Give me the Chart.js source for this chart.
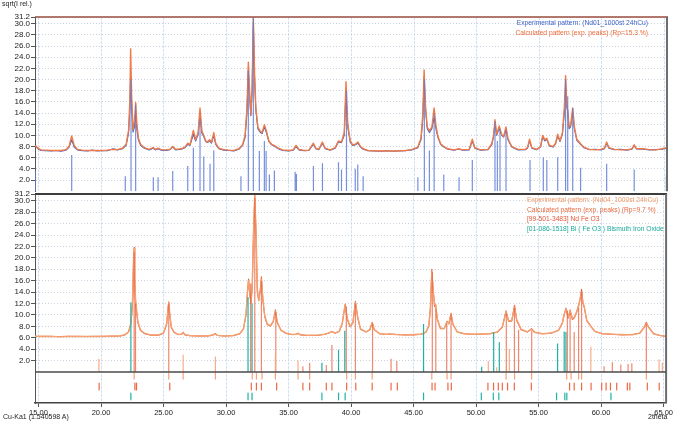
<!DOCTYPE html>
<html><head><meta charset="utf-8">
<script src="https://cdn.jsdelivr.net/npm/chart.js@4.4.0/dist/chart.umd.min.js"></script>
<style>
html,body{margin:0;padding:0;background:#fff}
body{width:674px;height:421px;position:relative;overflow:hidden;font-family:"Liberation Sans",Arial,sans-serif}
canvas{position:absolute;left:0}
.t{position:absolute;white-space:nowrap;font-size:7px;line-height:8px;color:#222}
.lg{font-size:6.7px}
</style></head><body>
<canvas id="c1" width="674" height="197" style="top:0"></canvas>
<canvas id="c2" width="674" height="241" style="top:180px"></canvas>
<div class="t" style="left:2px;top:0px">sqrt(I rel.)</div>
<div class="t lg" style="right:26px;top:19px;color:#3b60c8;text-align:right">Experimental pattern: (Nd01_1000st 24hCu)</div>
<div class="t lg" style="right:26px;top:29px;color:#ee6a3a;text-align:right">Calculated pattern (exp. peaks) (Rp=15.3 %)</div>
<div class="t lg" style="left:527px;top:196px;color:#f39a68">Experimental pattern: (Nd04_1000st 24hCu)</div>
<div class="t lg" style="left:527px;top:205.5px;color:#e8683f">Calculated pattern (exp. peaks) (Rp=9.7 %)</div>
<div class="t lg" style="left:527px;top:215px;color:#e55538">[99-501-3483] Nd Fe O3</div>
<div class="t lg" style="left:527px;top:225px;color:#19a99a">[01-086-1518] Bi ( Fe O3 ) Bismuth Iron Oxide</div>
<div class="t" style="left:3px;top:413px">Cu-Ka1 (1.540598 A)</div>
<div class="t" style="left:648px;top:413px">2theta</div>
<script>
// ---------- DATA ----------
const xTicks = [15, 20, 25, 30, 35, 40, 45, 50, 55, 60, 65];
const yTicks = [2, 4, 6, 8, 10, 12, 14, 16, 18, 20, 22, 24, 26, 28, 30, 31.2];

// Top panel: Nd01 pattern
const topTheta = [14.72,14.80,14.95,15.2,15.6,16.0,16.4,16.8,17.2,17.45,17.65,17.85,18.1,18.5,18.9,19.3,19.7,20.1,20.5,20.95,21.3,21.7,22.0,22.2,22.3,22.36,22.44,22.55,22.66,22.76,22.86,22.98,23.15,23.45,23.85,24.15,24.35,24.55,24.8,25.2,25.5,25.72,25.95,26.4,26.7,26.92,27.1,27.37,27.55,27.75,27.9,28.05,28.2,28.36,28.5,28.66,28.82,29.0,29.15,29.4,29.8,30.2,30.6,31.0,31.3,31.5,31.65,31.76,31.86,31.96,32.06,32.16,32.26,32.36,32.52,32.69,32.86,33.04,33.2,33.4,33.62,33.9,34.15,34.5,35.0,35.35,35.57,35.8,36.2,36.6,36.95,37.15,37.4,37.67,37.9,38.3,38.7,38.95,39.2,39.42,39.56,39.7,39.9,40.1,40.3,40.52,40.72,40.94,41.3,41.8,42.3,42.8,43.3,43.8,44.3,44.8,45.3,45.55,45.7,45.8,45.92,46.05,46.22,46.42,46.6,46.76,46.92,47.12,47.38,47.7,48.2,48.58,48.85,49.4,49.65,49.85,50.3,50.9,51.2,51.35,51.46,51.6,51.8,52.0,52.15,52.34,52.5,52.8,53.3,53.9,54.06,54.22,54.4,54.8,55.1,55.27,55.45,55.6,55.8,56.1,56.3,56.47,56.65,56.85,57.0,57.1,57.2,57.27,57.38,57.5,57.67,57.8,58.0,58.3,58.55,59.0,59.5,59.9,60.2,60.38,60.56,61.0,61.5,62.0,62.4,62.58,62.76,63.3,63.8,64.3,64.8,65.2];
const topCalc = [8.0,8.1,7.7,7.4,7.35,7.3,7.3,7.3,7.45,8.1,9.9,8.2,7.5,7.35,7.3,7.3,7.3,7.3,7.35,7.5,7.45,7.7,8.4,11.0,16.5,25.5,17.0,11.0,12.5,15.9,12.0,9.5,8.4,7.8,7.5,7.8,7.5,7.7,7.45,7.4,7.5,8.0,7.5,7.6,7.9,8.6,8.3,10.9,9.2,10.5,14.9,10.8,10.0,9.0,8.8,9.2,8.8,10.5,8.6,7.7,7.45,7.35,7.3,7.6,8.3,10.0,15.0,23.1,18.0,13.7,18.0,31.0,21.0,15.0,11.5,10.8,10.5,11.9,10.8,9.0,8.4,8.1,7.7,7.4,7.3,7.4,8.2,7.5,7.3,7.35,8.6,7.7,7.5,8.8,7.7,7.4,7.8,9.0,8.8,10.5,19.6,12.0,9.0,8.3,8.4,8.8,8.0,7.6,7.3,7.25,7.2,7.2,7.2,7.25,7.3,7.45,7.9,9.5,14.0,21.7,15.0,11.5,10.8,11.5,14.9,11.5,9.7,8.5,8.0,7.6,7.4,7.6,7.4,7.5,9.3,7.8,7.4,7.5,8.5,10.0,12.8,10.2,11.7,10.1,9.8,11.5,9.4,8.0,7.5,7.5,7.8,9.3,7.8,7.5,8.0,10.0,9.2,9.5,8.2,8.0,8.6,10.2,9.0,10.5,15.0,20.7,15.5,14.3,11.5,11.8,14.9,11.5,9.3,8.5,7.9,7.5,7.4,7.5,7.7,8.8,7.8,7.5,7.4,7.4,7.6,8.3,7.6,7.6,7.45,7.4,7.6,7.8];
const topExp = [7.9,8.0,7.6,7.3,7.25,7.2,7.3,7.15,7.35,7.9,9.2,7.9,7.4,7.25,7.2,7.35,7.2,7.3,7.25,7.6,7.4,7.6,8.2,10.5,15.0,20.5,15.0,10.6,11.5,14.0,11.0,9.2,8.2,7.7,7.4,7.7,7.4,7.6,7.35,7.3,7.45,7.9,7.4,7.5,7.8,8.4,8.2,10.2,9.0,10.2,13.8,10.4,9.8,8.9,8.7,9.0,8.6,10.0,8.4,7.6,7.35,7.3,7.2,7.5,8.2,9.6,14.0,21.6,17.0,13.5,18.0,30.2,20.0,14.5,11.2,10.6,10.3,11.5,10.5,8.9,8.3,8.0,7.6,7.3,7.2,7.35,8.0,7.4,7.25,7.3,8.4,7.6,7.45,8.6,7.6,7.35,7.7,8.8,8.7,10.0,17.8,11.5,8.8,8.2,8.3,8.6,7.9,7.5,7.25,7.2,7.15,7.25,7.15,7.2,7.25,7.4,7.8,9.2,13.0,20.5,14.5,11.2,10.5,11.2,13.2,11.0,9.5,8.4,7.9,7.5,7.35,7.55,7.35,7.4,9.0,7.7,7.35,7.45,8.3,9.8,12.2,10.0,11.3,10.0,9.7,11.0,9.2,7.9,7.4,7.45,7.7,9.0,7.7,7.45,7.9,9.7,9.0,9.3,8.1,7.9,8.5,9.9,8.9,10.2,14.0,19.0,15.0,14.5,11.2,11.5,14.2,11.2,9.1,8.4,7.8,7.45,7.5,7.4,7.6,8.6,7.7,7.45,7.5,7.35,7.5,8.2,7.55,7.5,7.4,7.45,7.5,7.7];
const topStickPos = [14.74,17.65,21.93,22.39,22.76,24.17,24.55,25.72,26.92,27.37,27.9,28.2,28.7,29.0,31.17,31.76,32.16,32.64,33.04,33.18,33.44,33.84,35.5,35.6,36.96,37.68,38.96,39.2,39.6,40.3,40.5,40.93,45.3,45.82,46.22,46.6,47.37,48.59,49.65,51.46,51.65,51.86,52.34,54.26,55.32,55.6,56.47,57.1,57.27,57.67,58.3,60.38,62.58,65.15];
const topStickH = [3.7,6.5,2.7,20.0,15.5,2.5,2.5,3.6,4.5,7.8,12.5,6.2,4.9,7.3,2.7,21.6,31.0,7.2,9.0,7.2,3.0,3.7,3.5,3.1,4.5,5.0,5.2,3.9,18.0,4.0,4.8,2.7,2.5,20.0,7.3,13.8,3.0,2.5,5.6,12.5,9.0,11.2,10.9,5.6,6.1,5.6,6.1,20.0,17.0,14.9,4.2,4.9,3.9,2.8];

// Bottom panel: Nd04 pattern
const botTheta = [14.72,15.3,16.0,16.7,17.4,18.1,18.8,19.5,20.2,20.9,21.5,21.9,22.2,22.4,22.52,22.6,22.65,22.7,22.76,22.85,22.95,23.15,23.5,24.0,24.6,25.0,25.25,25.35,25.42,25.5,25.62,25.85,26.2,26.45,26.57,26.72,27.2,27.9,28.6,28.98,29.12,29.3,29.9,30.6,31.1,31.4,31.6,31.72,31.8,31.9,32.0,32.1,32.2,32.3,32.4,32.5,32.62,32.74,32.83,32.95,33.1,33.3,33.55,33.78,33.95,34.1,34.4,34.8,35.3,35.6,35.76,35.95,36.6,37.3,37.9,38.2,38.47,38.7,39.05,39.3,39.53,39.7,39.92,40.15,40.35,40.52,40.75,41.2,41.5,41.69,41.86,42.3,42.8,43.08,43.6,44.3,45.0,45.6,46.0,46.22,46.35,46.46,46.58,46.68,46.76,46.9,47.15,47.45,47.68,47.82,48.0,48.15,48.5,49.0,49.7,50.4,51.1,51.7,52.1,52.4,52.6,52.85,53.08,53.25,53.6,54.1,54.44,54.7,55.3,56.0,56.6,56.9,57.05,57.19,57.36,57.53,57.7,57.86,58.05,58.2,58.3,58.44,58.55,58.66,58.85,59.18,59.5,60.1,60.9,61.7,62.5,63.1,63.45,63.62,63.8,64.2,64.7,65.2];
const botCalc = [6.2,6.25,6.2,6.2,6.25,6.2,6.2,6.2,6.25,6.25,6.3,6.5,7.0,8.5,12.0,19.0,21.8,16.0,12.5,10.5,8.6,7.3,6.7,6.45,6.45,6.8,8.3,10.8,12.3,10.0,7.8,6.9,6.55,6.6,6.95,6.5,6.35,6.3,6.3,6.5,6.75,6.4,6.3,6.35,6.7,7.6,10.0,14.0,16.3,13.5,12.0,15.0,24.0,31.0,24.0,14.0,12.5,14.5,16.7,12.5,9.6,8.3,8.0,8.8,10.9,8.6,7.3,6.75,6.55,6.6,6.75,6.5,6.4,6.4,6.6,6.8,7.1,6.8,7.1,8.5,11.9,9.2,7.9,8.6,12.4,9.6,7.5,7.0,7.4,8.7,7.4,6.7,6.55,6.65,6.55,6.5,6.5,6.6,7.0,8.0,11.0,18.0,14.0,11.5,11.8,9.2,7.6,7.6,8.9,8.4,10.3,8.3,7.0,6.7,6.6,6.6,6.7,7.0,7.8,10.7,8.9,8.9,11.7,9.0,7.4,7.0,7.6,6.9,6.7,6.8,7.3,8.5,10.0,11.2,9.4,10.9,9.2,9.5,10.5,11.7,12.5,14.5,12.0,11.3,9.0,8.0,7.1,6.7,6.6,6.5,6.55,6.8,7.8,8.7,7.8,6.7,6.4,6.2];
const botExp = [6.25,6.2,6.25,6.15,6.2,6.25,6.2,6.25,6.2,6.3,6.3,6.5,7.0,8.6,12.5,19.5,21.6,16.5,12.8,10.8,8.8,7.4,6.75,6.45,6.5,6.85,8.5,11.0,12.2,10.2,7.9,6.95,6.55,6.65,6.9,6.5,6.35,6.3,6.35,6.5,6.7,6.4,6.3,6.4,6.7,7.6,10.2,14.2,16.0,13.8,12.3,15.5,25.0,30.8,25.0,14.5,12.6,14.2,16.3,12.8,9.8,8.4,8.1,8.9,10.6,8.7,7.3,6.8,6.55,6.6,6.8,6.5,6.4,6.45,6.6,6.8,7.1,6.8,7.1,8.6,11.7,9.4,8.0,8.7,12.2,9.8,7.6,7.0,7.4,8.6,7.4,6.7,6.6,6.65,6.55,6.5,6.55,6.6,7.0,8.2,11.5,17.5,14.2,11.8,11.9,9.3,7.7,7.6,8.8,8.5,10.0,8.4,7.0,6.75,6.6,6.65,6.7,7.0,7.9,10.5,9.0,9.0,11.4,9.2,7.5,7.0,7.5,6.95,6.7,6.8,7.3,8.6,10.2,11.0,9.6,10.7,9.4,9.6,10.6,11.5,12.6,14.0,12.2,11.4,9.1,8.0,7.1,6.7,6.6,6.55,6.5,6.8,7.9,8.5,7.9,6.7,6.4,6.25];

// reference sticks in the bottom panel (above zero)
const expStickPos = [19.83,26.57,29.15,33.95,35.76,50.98,51.65,52.66,59.18,64.64,64.9];
const expStickH = [2.3,3.0,2.7,3.0,2.0,1.9,0.8,4.0,4.4,2.2,1.6];
const ndStickPos = [22.65,22.76,25.42,31.97,32.3,32.83,33.98,36.15,36.69,38.02,38.47,39.62,40.35,41.72,43.2,43.66,46.5,46.78,47.65,48.0,52.42,53.07,53.4,54.45,57.3,57.52,57.85,58.2,58.44,60.24,60.9,61.58,62.16,62.46,63.62];
const ndStickH = [21.0,12.0,12.0,15.5,30.5,16.0,10.5,1.0,1.6,1.2,4.7,11.5,12.0,8.5,2.3,1.9,17.5,11.0,8.5,10.0,10.2,11.3,7.4,7.2,10.8,10.3,7.0,11.2,14.2,1.0,1.7,1.3,1.4,1.5,8.4];
const biStickPos = [22.39,31.76,32.08,37.67,39.0,39.5,45.8,50.45,51.41,51.86,56.52,57.05,57.19];
const biStickH = [12.2,13.1,12.0,1.6,3.9,7.2,8.4,0.9,7.0,5.2,5.0,7.1,7.0];

// peak marker rows below zero
const rowExpPos = [22.65,25.42,26.57,29.15,32.1,32.43,32.88,33.95,35.76,36.69,39.65,40.35,41.69,46.46,47.68,48.0,52.4,53.08,54.44,57.25,57.6,58.2,58.44,63.62];
const rowNdPos = [19.85,22.71,22.84,25.5,32.02,32.43,32.83,34.05,36.15,36.69,38.02,38.47,39.65,40.38,41.69,43.2,43.7,46.48,46.72,47.75,48.02,50.95,51.4,51.78,52.1,52.52,53.06,54.42,57.48,57.85,58.44,59.2,60.05,60.4,60.75,61.25,62.1,62.3,63.7,64.65];
const rowBiPos = [22.39,31.76,32.08,37.67,39.0,39.53,45.8,50.42,51.38,51.82,56.44,57.1,57.26,60.79];

// ---------- HELPERS ----------
const FONT = '"Liberation Sans", Arial, sans-serif';
function pairs(xs, ys) { return xs.map((x, i) => ({ x: x, y: ys[i] })); }
function sticks(pos, lo, hi) {
  const out = [];
  pos.forEach((p, i) => {
    out.push({ x: p, y: Array.isArray(lo) ? lo[i] : lo });
    out.push({ x: p, y: Array.isArray(hi) ? hi[i] : hi });
    out.push({ x: p, y: null });
  });
  return out;
}
function lineDs(data, color, width) {
  return { type: 'line', data: data, borderColor: color, borderWidth: width, pointRadius: 0, tension: 0, fill: false, spanGaps: false };
}
function xScale(showLabels) {
  return {
    type: 'linear', min: 14.72, max: 65.2,
    afterBuildTicks: s => { s.ticks = xTicks.map(v => ({ value: v })); },
    afterFit: s => { s.height = showLabels ? 18 : 0; },
    ticks: { display: showLabels, color: '#222', font: { family: FONT, size: 7.5 }, padding: 1, maxRotation: 0, autoSkip: false, callback: v => v.toFixed(2) },
    grid: { color: '#d2e1f0', lineWidth: 1, drawTicks: showLabels, tickLength: 4, tickColor: '#555' },
    border: { display: showLabels, color: '#444', width: 1.5, dash: [3, 1] }
  };
}
function yScale(min) {
  return {
    min: min, max: 31.2,
    afterBuildTicks: s => { s.ticks = yTicks.map(v => ({ value: v })); },
    afterFit: s => { s.width = 35; },
    ticks: { color: '#222', font: { family: FONT, size: 8 }, padding: 1, autoSkip: false, callback: v => v.toFixed(1) },
    grid: { color: '#c9d2de', lineWidth: 1, drawTicks: true, tickLength: 4, tickColor: '#555' },
    border: { display: true, color: '#555', width: 1, dash: [1, 2] }
  };
}
const framePlugin = {
  id: 'frame',
  afterDraw(chart, args, opts) {
    const { ctx, chartArea: a } = chart;
    ctx.save();
    ctx.lineWidth = opts.topWidth;
    ctx.strokeStyle = opts.topColor;
    ctx.beginPath(); ctx.moveTo(a.left, a.top); ctx.lineTo(a.right + 1, a.top); ctx.stroke();
    ctx.lineWidth = 2; ctx.strokeStyle = '#6d6d6d';
    ctx.beginPath(); ctx.moveTo(a.right, a.top); ctx.lineTo(a.right, a.bottom); ctx.stroke();
    if (opts.zero) {
      const y0 = chart.scales.y.getPixelForValue(0);
      ctx.lineWidth = 1.5; ctx.strokeStyle = '#4a4a4a';
      ctx.beginPath(); ctx.moveTo(a.left, y0); ctx.lineTo(a.right, y0); ctx.stroke();
    }
    ctx.restore();
  }
};
const common = {
  responsive: false, animation: false, devicePixelRatio: 1,
  plugins: { legend: { display: false }, tooltip: { enabled: false } },
  elements: { line: { borderJoinStyle: 'round' } }
};

// ---------- TOP CHART ----------
new Chart(document.getElementById('c1'), {
  type: 'line',
  data: {
    datasets: [
      lineDs(sticks(topStickPos, 0, topStickH), 'rgba(95,125,215,0.85)', 1.2),
      lineDs(pairs(topTheta, topCalc), '#ef7a48', 1.4),
      lineDs(pairs(topTheta, topExp), '#3c5fc4', 1.1)
    ]
  },
  options: Object.assign({}, common, {
    layout: { padding: { left: 0, right: 7, top: 17, bottom: 2.6 } },
    scales: { x: xScale(false), y: yScale(0) },
    plugins: Object.assign({}, common.plugins, { frame: { topColor: '#9a4d3e', topWidth: 1.5, zero: false } })
  }),
  plugins: [framePlugin]
});

// ---------- BOTTOM CHART ----------
new Chart(document.getElementById('c2'), {
  type: 'line',
  data: {
    datasets: [
      lineDs(sticks(rowExpPos, -0.2, -1.25), '#f6a27c', 1.2),
      lineDs(sticks(rowNdPos, -1.95, -3.15), '#ee6845', 1.2),
      lineDs(sticks(rowBiPos, -3.7, -4.9), '#21b2a3', 1.2),
      lineDs(sticks(expStickPos, 0, expStickH), 'rgba(246,165,125,0.9)', 1.2),
      lineDs(sticks(ndStickPos, 0, ndStickH), 'rgba(234,96,62,0.75)', 1.2),
      lineDs(sticks(biStickPos, 0, biStickH), '#1fb1a2', 1.2),
      lineDs(pairs(botTheta, botExp), '#f4a070', 1.4),
      lineDs(pairs(botTheta, botCalc), '#e8653c', 1.1)
    ]
  },
  options: Object.assign({}, common, {
    layout: { padding: { left: 0, right: 7, top: 14, bottom: 0 } },
    scales: { x: xScale(true), y: yScale(-5.45) },
    plugins: Object.assign({}, common.plugins, { frame: { topColor: '#3d3d3d', topWidth: 2, zero: true } })
  }),
  plugins: [framePlugin]
});
</script>
</body></html>
